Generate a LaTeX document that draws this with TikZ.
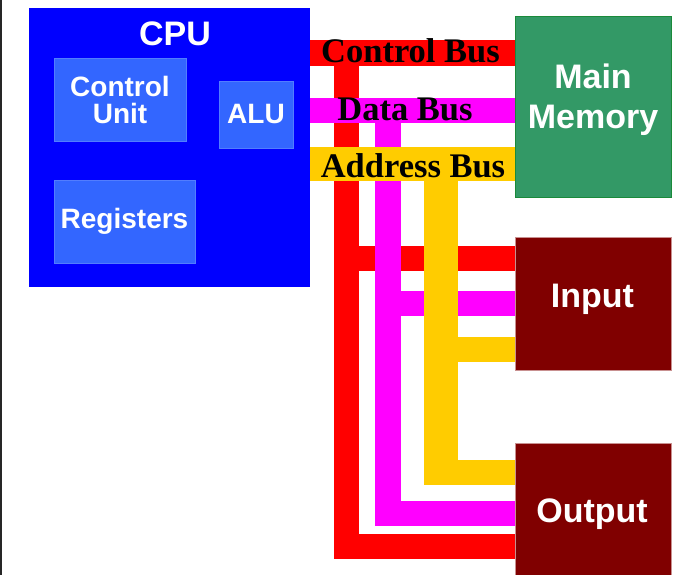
\documentclass[tikz,border=0pt]{standalone}
\usepackage{fontspec}
\setmainfont{Liberation Serif}
\setsansfont{Liberation Sans}
\definecolor{cpublue}{HTML}{0000FF}
\definecolor{unitblue}{HTML}{3366FF}
\definecolor{memgreen}{HTML}{339966}
\definecolor{memedge}{HTML}{1A8A3A}
\definecolor{iored}{HTML}{800000}
\definecolor{ioedge}{HTML}{C89090}
\definecolor{ctlred}{HTML}{FF0000}
\definecolor{datmag}{HTML}{FF00FF}
\definecolor{adryel}{HTML}{FFCC00}
\begin{document}
\begin{tikzpicture}[x=1pt,y=-1pt,
  unit/.style={inner sep=0pt,fill=unitblue,draw=unitblue!85!white,line width=0.6pt,
    text=white,align=center,font=\sffamily\bfseries\fontsize{28}{27}\selectfont},
  dev/.style={inner sep=0pt,minimum width=156pt,line width=0.8pt},
  bigtxt/.style={text=white,align=center,font=\sffamily\bfseries\fontsize{34}{40}\selectfont},
  bus/.style={line width=25.5pt,line cap=butt,line join=miter},
  buslbl/.style={anchor=base,inner sep=0pt,font=\rmfamily\bfseries\fontsize{34.5}{40}\selectfont}]
\useasboundingbox (0,0) rectangle (689,575);
\draw[line width=1.5pt,black!85] (0.75,0) -- (0.75,575);
% cpu and its parts
\node[fill=cpublue,minimum width=281pt,minimum height=279pt,inner sep=0pt] (cpu) at (169.5,147.5) {};
\node[bigtxt,anchor=base] (cpulbl) at (175,46) {CPU};
\node[unit,minimum width=132pt,minimum height=83pt] (cu) at (120,100) {Control\\Unit};
\node[unit,minimum width=74pt,minimum height=67pt] (alu) at (256,114.5) {ALU};
\node[unit,minimum width=141pt,minimum height=83pt] (reg) at (124.5,221.5) {Registers};
% memory and i/o
\node[dev,fill=memgreen,draw=memedge,minimum height=181pt] (mem) at (593,106.5) {};
\node[dev,fill=iored,draw=ioedge,minimum height=133pt] (inp) at (593,303.5) {};
\node[dev,fill=iored,draw=ioedge,minimum height=136pt] (out) at (593,511) {};
\node[bigtxt] (memlbl) at (593,99.4) {Main\\Memory};
\node[bigtxt,anchor=base] (inplbl) at (592.5,308) {Input};
\node[bigtxt,anchor=base] (outlbl) at (592,522) {Output};
% bus levels
\coordinate (ctl) at (346.5,53);
\coordinate (dat) at (388,110.5);
\coordinate (adr) at (441,164);
\coordinate (ctlin) at (0,258.5);
\coordinate (ctlout) at (0,546.5);
\coordinate (datin) at (0,303.5);
\coordinate (datout) at (0,513.5);
\coordinate (adrin) at (0,349.5);
\coordinate (adrout) at (0,472.5);
\coordinate (adrend) at (0,485);
% control bus
\draw[bus,ctlred] (cpu.east |- ctl) -- (mem.west |- ctl);
\draw[bus,ctlred] (ctl) -- (ctl |- ctlout) -- (out.west |- ctlout);
\draw[bus,ctlred] (ctl |- ctlin) -- (inp.west |- ctlin);
% data bus
\draw[bus,datmag] (cpu.east |- dat) -- (mem.west |- dat);
\draw[bus,datmag] (dat) -- (dat |- datout) -- (out.west |- datout);
\draw[bus,datmag] (dat |- datin) -- (inp.west |- datin);
% address bus
\draw[bus,adryel,line width=34pt] (cpu.east |- adr) -- (mem.west |- adr);
\draw[bus,adryel,line width=34pt] (adr) -- (adr |- adrend);
\draw[bus,adryel] ([xshift=-17pt]adr |- adrout) -- (out.west |- adrout);
\draw[bus,adryel] (adr |- adrin) -- (inp.west |- adrin);
% bus names
\node[buslbl] (ctllbl) at (410.5,63) {Control Bus};
\node[buslbl] (datlbl) at (405,121) {Data Bus};
\node[buslbl] (adrlbl) at (413,178) {Address Bus};
\end{tikzpicture}
\end{document}
